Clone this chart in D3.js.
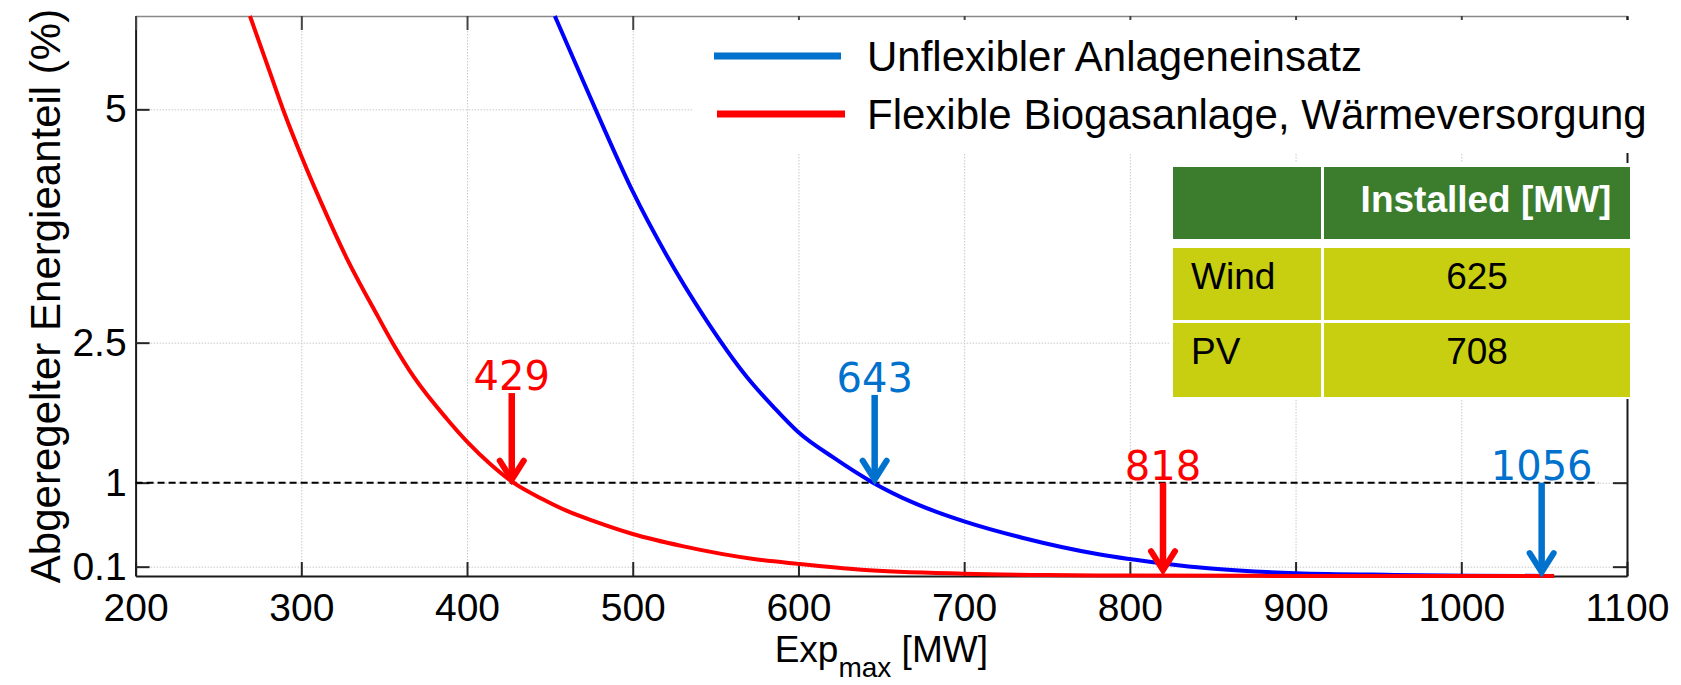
<!DOCTYPE html>
<html>
<head>
<meta charset="utf-8">
<script src="https://d3js.org/d3.v7.min.js"></script>
<style>
	body { margin: 0; background: #fff; }
	svg text { font-family: "Liberation Sans", Arial, sans-serif; }
	.grid line { stroke: #c8c8c8; stroke-width: 1; stroke-dasharray: 1.5,1.5; }
	.grid path { display: none; }
</style>
</head>
<body>
<div id="svg-div"></div>
<script>
// Data
var xTicks = [200, 300, 400, 500, 600, 700, 800, 900, 1000, 1100];
var yTicks = [0.1, 1, 2.5, 5];

var seriesNames = ["Unflexibler Anlageneinsatz", "Flexible Biogasanlage, Wärmeversorgung"];

// Unflexibler Anlageneinsatz
var blueX = [453, 466, 483, 500, 520, 543, 569, 585, 600, 621, 645, 670, 700, 735, 782, 820, 849, 900, 960, 1005, 1056];
var blueY = [6.0, 5.47, 4.78, 4.12, 3.45, 2.78, 2.13, 1.81, 1.54, 1.27, 1.0, 0.78, 0.585, 0.41, 0.23, 0.135, 0.08, 0.03, 0.012, 0.004, 0];

// Flexible Biogasanlage
var redX = [269, 280, 290, 300, 312, 327, 345, 355, 368, 388, 400, 414, 428, 446, 460, 477, 500, 530, 574, 600, 638, 700, 750, 800, 900, 1056];
var redY = [6.0, 5.45, 4.95, 4.50, 4.00, 3.42, 2.82, 2.50, 2.13, 1.68, 1.44, 1.20, 1.0, 0.82, 0.70, 0.585, 0.45, 0.32, 0.18, 0.13, 0.068, 0.025, 0.01, 0.005, 0.001, 0];

var refLevel = 1;
var refEnd = 1083;

// arrows: label, x position, shaft top, tip, series index
var arrowLabels = ["429", "643", "818", "1056"];
var arrowX = [427, 646, 820, 1048.5];
var arrowTop = [1.96, 1.94, 1.0, 1.0];
var arrowTip = [1.0, 1.0, 0.03, 0.01];
var arrowSeries = [1, 0, 1, 0];

var tableHeader = ["", "Installed [MW]"];
var tableRows = ["Wind", "PV"];
var tableValues = [625, 708];

/*
 * Chart
 */
var chartProperties = {
	outerWidth: 1681,
	outerHeight: 685,
	margin: { top: 16, right: 54, bottom: 109, left: 135.6 }
};
chartProperties.width = chartProperties.outerWidth - chartProperties.margin.left - chartProperties.margin.right;
chartProperties.height = chartProperties.outerHeight - chartProperties.margin.top - chartProperties.margin.bottom;

var lineColors = ["#0000ff", "#ff0000"];
var markColors = ["#0072ce", "#ff0000"];

var svg = d3.select("#svg-div")
	.append("svg")
	.attr("width", chartProperties.outerWidth)
	.attr("height", chartProperties.outerHeight)
	.style("display", "block");

var g = svg.append("g")
	.attr("transform", "translate(" + chartProperties.margin.left + "," + chartProperties.margin.top + ")");

// Scale
var xScale = d3.scaleLinear()
	.domain([200, 1100])
	.range([0, chartProperties.width]);

var yScale = d3.scaleLinear()
	.domain([0, 6])
	.range([chartProperties.height, 0]);

// Gridlines
g.append("g")
	.attr("class", "grid")
	.call(d3.axisBottom(xScale).tickValues(xTicks).tickFormat("").tickSize(chartProperties.height).tickSizeOuter(0));

g.append("g")
	.attr("class", "grid")
	.call(d3.axisRight(yScale).tickValues(yTicks).tickFormat("").tickSize(chartProperties.width).tickSizeOuter(0));

// Axes (box with inward ticks)
var xAxis = g.append("g")
	.attr("transform", "translate(0," + chartProperties.height + ")")
	.call(d3.axisBottom(xScale).tickValues(xTicks).tickFormat(d3.format("d")).tickSizeInner(-14).tickSizeOuter(0));
xAxis.selectAll("text")
	.attr("y", 45).attr("dy", null)
	.style("font-size", "39px").attr("fill", "#000");

var yAxis = g.append("g")
	.call(d3.axisLeft(yScale).tickValues(yTicks).tickFormat(function(d) { return d; }).tickSizeInner(-14).tickSizeOuter(0).tickPadding(9));
yAxis.selectAll("text")
	.style("font-size", "39px").attr("fill", "#000");

var topAxis = g.append("g")
	.call(d3.axisTop(xScale).tickValues(xTicks).tickFormat("").tickSizeInner(-14).tickSizeOuter(0));

var rightAxis = g.append("g")
	.attr("transform", "translate(" + chartProperties.width + ",0)")
	.call(d3.axisRight(yScale).tickValues(yTicks).tickFormat("").tickSizeInner(-14).tickSizeOuter(0));

[xAxis, yAxis, rightAxis].forEach(function(a) {
	a.select(".domain").attr("stroke", "#1a1a1a").attr("stroke-width", 2);
	a.selectAll(".tick line").attr("stroke", "#262626").attr("stroke-width", 2);
});
topAxis.select(".domain").attr("stroke", "#888").attr("stroke-width", 1.5);
topAxis.selectAll(".tick line").attr("stroke", "#444").attr("stroke-width", 2);

// Reference line at 1 %
g.append("line")
	.attr("x1", xScale(200))
	.attr("x2", xScale(refEnd))
	.attr("y1", yScale(refLevel))
	.attr("y2", yScale(refLevel))
	.attr("stroke", "#000")
	.attr("stroke-width", 2)
	.attr("stroke-dasharray", "7,4");

// Curves
var line = d3.line()
	.x(function(d) { return xScale(d[0]); })
	.y(function(d) { return yScale(d[1]); })
	.curve(d3.curveMonotoneX);

var blueData = d3.zip(blueX, blueY);
var redData = d3.zip(redX, redY);

g.append("path")
	.datum(blueData)
	.attr("fill", "none")
	.attr("stroke", lineColors[0])
	.attr("stroke-width", 4)
	.attr("d", line);

g.append("path")
	.datum(redData)
	.attr("fill", "none")
	.attr("stroke", lineColors[1])
	.attr("stroke-width", 4)
	.attr("d", line);

// Arrows
arrowLabels.forEach(function(lbl, i) {
	var c = markColors[arrowSeries[i]];
	var ax = xScale(arrowX[i]);
	var y0 = yScale(arrowTop[i]);
	var y1 = yScale(arrowTip[i]);
	g.append("line")
		.attr("x1", ax).attr("x2", ax)
		.attr("y1", y0).attr("y2", y1 - 3)
		.attr("stroke", c).attr("stroke-width", 6.5);
	g.append("path")
		.attr("d", "M" + (ax - 12) + "," + (y1 - 22) + "L" + ax + "," + (y1 - 3) + "L" + (ax + 12) + "," + (y1 - 22))
		.attr("fill", "none")
		.attr("stroke", c)
		.attr("stroke-width", 6)
		.attr("stroke-linecap", "round")
		.attr("stroke-linejoin", "miter");
	g.append("text")
		.attr("x", ax)
		.attr("y", y0 - 3)
		.attr("text-anchor", "middle")
		.attr("fill", c)
		.style("font-family", "'DejaVu Sans', sans-serif")
		.style("font-size", "40px")
		.text(lbl);
});

// Axis titles
svg.append("text")
	.attr("transform", "translate(60," + (chartProperties.margin.top + chartProperties.height / 2) + ") rotate(-90)")
	.attr("text-anchor", "middle")
	.style("font-size", "42px")
	.text("Abgeregelter Energieanteil (%)");

var xTitle = svg.append("text")
	.attr("x", chartProperties.margin.left + chartProperties.width / 2)
	.attr("y", 662)
	.attr("text-anchor", "middle")
	.style("font-size", "37px");
xTitle.append("tspan").text("Exp");
xTitle.append("tspan").attr("dy", 15).style("font-size", "28px").text("max");
xTitle.append("tspan").attr("dy", -15).text(" [MW]");

// Legend
var legend = svg.append("g");
legend.append("rect")
	.attr("x", 693).attr("y", 20)
	.attr("width", 947).attr("height", 133)
	.attr("fill", "#fff");

seriesNames.forEach(function(name, i) {
	var ly = 56 + i * 58;
	legend.append("line")
		.attr("x1", 714 + i * 3).attr("x2", 841 + i * 4)
		.attr("y1", ly).attr("y2", ly)
		.attr("stroke", markColors[i])
		.attr("stroke-width", 7);
	legend.append("text")
		.attr("x", 867)
		.attr("y", ly + 15)
		.style("font-size", "42px")
		.attr("fill", "#000")
		.text(name);
});

// Table
var table = svg.append("g");
table.append("rect")
	.attr("x", 1170).attr("y", 163)
	.attr("width", 463).attr("height", 236)
	.attr("fill", "#fff");

var colX = [1173, 1324];
var colW = [148, 306];
var rowY = [167, 248, 323];
var rowH = [72, 72, 74];

tableHeader.forEach(function(h, j) {
	table.append("rect")
		.attr("x", colX[j]).attr("y", rowY[0])
		.attr("width", colW[j]).attr("height", rowH[0])
		.attr("fill", "#3c7d2d");
});
table.append("text")
	.attr("x", 1486).attr("y", 212)
	.attr("text-anchor", "middle")
	.attr("fill", "#fff")
	.style("font-size", "37px")
	.style("font-weight", "bold")
	.text(tableHeader[1]);

tableRows.forEach(function(r, i) {
	var ry = rowY[i + 1];
	[0, 1].forEach(function(j) {
		table.append("rect")
			.attr("x", colX[j]).attr("y", ry)
			.attr("width", colW[j]).attr("height", rowH[i + 1])
			.attr("fill", "#c7cf10");
	});
	table.append("text")
		.attr("x", 1191).attr("y", ry + 41)
		.style("font-size", "37px")
		.text(r);
	table.append("text")
		.attr("x", 1477).attr("y", ry + 41)
		.attr("text-anchor", "middle")
		.style("font-size", "37px")
		.text(tableValues[i]);
});
</script>
</body>
</html>
